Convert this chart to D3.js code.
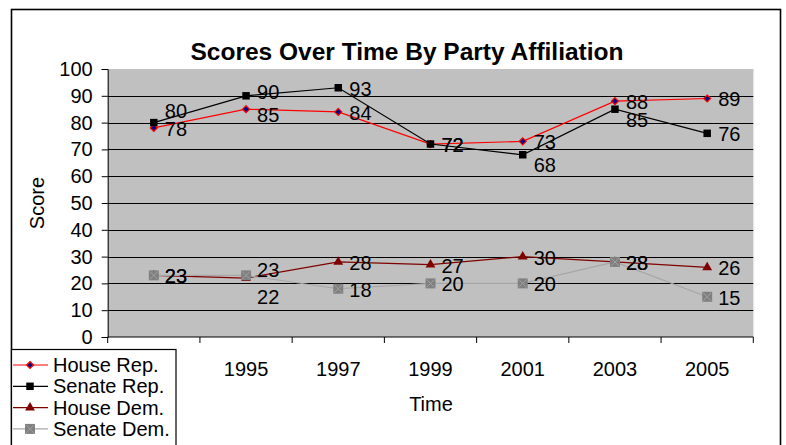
<!DOCTYPE html>
<html>
<head>
<meta charset="utf-8">
<script src="https://cdn.jsdelivr.net/npm/d3@7"></script>
<style>
  body { margin: 0; background: #fff; }
  text { font-family: "Liberation Sans", Arial, sans-serif; fill: #000; }
</style>
</head>
<body>
<svg width="786" height="445"></svg>
<script>
// data
const years = ["1993", "1995", "1997", "1999", "2001", "2003", "2005"];
const houseRep = [78, 85, 84, 72, 73, 88, 89];
const senateRep = [80, 90, 93, 72, 68, 85, 76];
const houseDem = [23, 22, 28, 27, 30, 28, 26];
const senateDem = [23, 23, 18, 20, 20, 28, 15];
const yTicks = [0, 10, 20, 30, 40, 50, 60, 70, 80, 90, 100];

// labels that were dragged off their default spot in the original
const labelNudge = {
  "Senate Rep.": [-13, -5, 0, 0, 9, 10, 0],
  "House Rep.": [0, 5, 0, 0, 0, 0, 0],
  "House Dem.": [0, 18, 0, 0, 0, 0, 0],
  "Senate Dem.": [0, -6, 0, 0, 0, 0, 0]
};

const series = [
  {name: "House Rep.", values: houseRep, line: "#ff0000", marker: "diamond"},
  {name: "Senate Rep.", values: senateRep, line: "#000000", marker: "square"},
  {name: "House Dem.", values: houseDem, line: "#800000", marker: "triangle"},
  {name: "Senate Dem.", values: senateDem, line: "#a6a6a6", marker: "xsquare"}
];

const svg = d3.select("svg");
const plot = {left: 107.7, right: 753.3, top: 69, bottom: 337};

// outer chart border
svg.append("rect")
  .attr("x", 11.5).attr("y", 9.5)
  .attr("width", 769).attr("height", 460)
  .attr("fill", "none").attr("stroke", "#000").attr("stroke-width", 1.6);

const x = d3.scaleBand().domain(years).range([plot.left, plot.right]);
const y = d3.scaleLinear().domain([0, 100]).range([plot.bottom, plot.top]);
const cx = d => x(d) + x.bandwidth() / 2;

// plot area
svg.append("rect")
  .attr("x", plot.left).attr("y", plot.top)
  .attr("width", plot.right - plot.left).attr("height", plot.bottom - plot.top)
  .attr("fill", "#c0c0c0");
svg.append("line")
  .attr("x1", plot.right + 0.5).attr("x2", plot.right + 0.5)
  .attr("y1", plot.top).attr("y2", plot.bottom)
  .attr("stroke", "#e6e6e6");

// gridlines
svg.append("g")
  .selectAll("line")
  .data(yTicks.filter(t => t > 0 && t < 100))
  .join("line")
  .attr("x1", plot.left).attr("x2", plot.right)
  .attr("y1", d => Math.round(y(d)) + 0.5).attr("y2", d => Math.round(y(d)) + 0.5)
  .attr("stroke", "#000").attr("stroke-width", 1);

// y axis
const yAxis = svg.append("g")
  .attr("transform", "translate(" + plot.left + ",0)")
  .call(d3.axisLeft(y).tickValues(yTicks).tickSize(6).tickPadding(9));
yAxis.select(".domain").attr("stroke", "#000");
yAxis.selectAll("text").style("font-size", "20px");

// x axis: ticks between categories
const xAxis = svg.append("g")
  .attr("transform", "translate(0," + plot.bottom + ")");
xAxis.append("line")
  .attr("x1", plot.left).attr("x2", plot.right)
  .attr("stroke", "#000");
xAxis.selectAll(".tk")
  .data(years.concat(["end"]))
  .join("line")
  .attr("class", "tk")
  .attr("x1", (d, i) => plot.left + i * x.step())
  .attr("x2", (d, i) => plot.left + i * x.step())
  .attr("y1", 0).attr("y2", 6)
  .attr("stroke", "#000");
xAxis.selectAll("text")
  .data(years)
  .join("text")
  .attr("x", d => cx(d))
  .attr("y", 39)
  .attr("text-anchor", "middle")
  .style("font-size", "20px")
  .text(d => d);

// titles
svg.append("text")
  .attr("x", 407).attr("y", 60)
  .attr("text-anchor", "middle")
  .style("font-size", "24.5px").style("font-weight", "bold")
  .text("Scores Over Time By Party Affiliation");
svg.append("text")
  .attr("x", 431).attr("y", 411)
  .attr("text-anchor", "middle")
  .style("font-size", "20px")
  .text("Time");
svg.append("text")
  .attr("transform", "translate(44,203) rotate(-90)")
  .attr("text-anchor", "middle")
  .style("font-size", "20px")
  .text("Score");

function drawMarker(g, kind) {
  if (kind === "diamond") {
    g.append("path").attr("d", "M0,-3.5L3.5,0L0,3.5L-3.5,0Z")
      .attr("fill", "#000080").attr("stroke", "#ff0000").attr("stroke-width", 1.2);
  } else if (kind === "square") {
    g.append("path").attr("d", d3.symbol(d3.symbolSquare, 56)())
      .attr("fill", "#000");
  } else if (kind === "triangle") {
    g.append("path").attr("d", d3.symbol(d3.symbolTriangle, 42)())
      .attr("fill", "#800000");
  } else {
    g.append("path").attr("d", d3.symbol(d3.symbolSquare, 100)())
      .attr("fill", "#808080");
    g.append("path").attr("d", "M-4,-4L4,4M-4,4L4,-4")
      .attr("stroke", "#a0a0a0").attr("stroke-width", 1);
  }
}

const line = d3.line().x(d => cx(d.year)).y(d => y(d.v));

// series in order, later ones on top
series.forEach(s => {
  const pts = s.values.map((v, i) => ({year: years[i], v: v, i: i}));
  svg.append("path")
    .datum(pts)
    .attr("d", line)
    .attr("fill", "none")
    .attr("stroke", s.line)
    .attr("stroke-width", 1.2);
  pts.forEach(p => {
    const g = svg.append("g").attr("transform", "translate(" + cx(p.year) + "," + y(p.v) + ")");
    drawMarker(g, s.marker);
  });
});

// data labels
series.forEach(s => {
  svg.append("g")
    .selectAll("text")
    .data(s.values)
    .join("text")
    .attr("x", (d, i) => cx(years[i]) + 11)
    .attr("y", (d, i) => y(d) + labelNudge[s.name][i] + 8)
    .style("font-size", "20px")
    .text(d => d);
});

// legend
const legend = svg.append("g");
legend.append("rect")
  .attr("x", 11.5).attr("y", 349.5)
  .attr("width", 164.5).attr("height", 100)
  .attr("fill", "#fff").attr("stroke", "#000").attr("stroke-width", 1.2);
series.forEach((s, i) => {
  const ly = 365 + i * 21.3;
  legend.append("line")
    .attr("x1", 13).attr("x2", 48)
    .attr("y1", ly).attr("y2", ly)
    .attr("stroke", s.line).attr("stroke-width", 1.2);
  drawMarker(legend.append("g").attr("transform", "translate(30," + ly + ")"), s.marker);
  legend.append("text")
    .attr("x", 53).attr("y", ly + 7)
    .style("font-size", "20px")
    .text(s.name);
});
</script>
</body>
</html>
